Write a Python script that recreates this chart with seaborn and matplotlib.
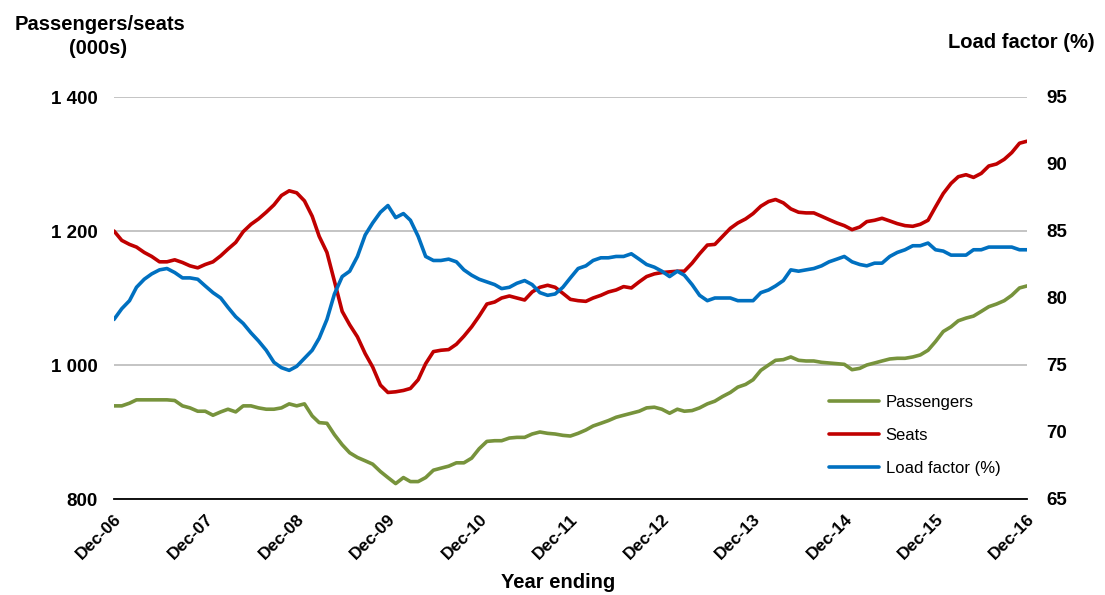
import numpy as np
import pandas as pd
import matplotlib
matplotlib.use('Agg')
import matplotlib.pyplot as plt
import seaborn as sns
from matplotlib.ticker import FuncFormatter

# Monthly data, year ending Dec-06 .. Dec-16
months = pd.date_range('2006-12-01', periods=121, freq='MS')

passengers = [939, 939, 943, 948, 948, 948, 948, 948, 947, 939,
              936, 931, 931, 925, 930, 934, 930, 939, 939, 936,
              934, 934, 936, 942, 939, 942, 924, 914, 913, 896,
              881, 869, 862, 857, 852, 841, 832, 823, 832, 826,
              826, 832, 843, 846, 849, 854, 854, 861, 875, 886,
              887, 887, 891, 892, 892, 897, 900, 898, 897, 895,
              894, 898, 903, 909, 913, 917, 922, 925, 928, 931,
              936, 937, 934, 928, 934, 931, 932, 936, 942, 946,
              953, 959, 967, 971, 978, 992, 1000, 1007, 1008, 1012,
              1007, 1006, 1006, 1004, 1003, 1002, 1001, 993, 995, 1000,
              1003, 1006, 1009, 1010, 1010, 1012, 1015, 1022, 1035, 1050,
              1057, 1066, 1070, 1073, 1080, 1087, 1091, 1096, 1104, 1115, 1118]

seats = [1200, 1186, 1180, 1176, 1168, 1162, 1154, 1154, 1157, 1153,
         1148, 1145, 1150, 1154, 1163, 1173, 1183, 1199, 1210, 1218,
         1228, 1239, 1253, 1260, 1257, 1245, 1222, 1192, 1168, 1125,
         1080, 1060, 1042, 1017, 997, 970, 959, 960, 962, 965,
         978, 1002, 1020, 1022, 1023, 1031, 1043, 1057, 1073, 1091,
         1094, 1100, 1103, 1100, 1097, 1109, 1116, 1119, 1116, 1107,
         1098, 1096, 1095, 1100, 1104, 1109, 1112, 1117, 1115, 1124,
         1132, 1136, 1138, 1139, 1140, 1140, 1152, 1166, 1179, 1180,
         1192, 1204, 1212, 1218, 1226, 1237, 1244, 1247, 1242, 1233,
         1228, 1227, 1227, 1222, 1217, 1212, 1208, 1202, 1206, 1214,
         1216, 1219, 1215, 1211, 1208, 1207, 1210, 1216, 1236, 1256,
         1271, 1281, 1284, 1280, 1286, 1297, 1300, 1307, 1317, 1331, 1334]

load_factor = [78.4, 79.2, 79.8, 80.8, 81.4, 81.8, 82.1, 82.2, 81.9, 81.5,
               81.5, 81.4, 80.9, 80.4, 80.0, 79.3, 78.6, 78.1, 77.4, 76.8,
               76.1, 75.2, 74.8, 74.6, 74.9, 75.5, 76.1, 77.0, 78.4, 80.3,
               81.6, 82.0, 83.1, 84.7, 85.6, 86.4, 86.9, 86.0, 86.3, 85.8,
               84.6, 83.1, 82.8, 82.8, 82.9, 82.7, 82.1, 81.7, 81.4, 81.2,
               81.0, 80.7, 80.8, 81.1, 81.3, 81.0, 80.4, 80.2, 80.3, 80.8,
               81.5, 82.2, 82.4, 82.8, 83.0, 83.0, 83.1, 83.1, 83.3, 82.9,
               82.5, 82.3, 82.0, 81.6, 82.0, 81.7, 81.0, 80.2, 79.8, 80.0,
               80.0, 80.0, 79.8, 79.8, 79.8, 80.4, 80.6, 80.9, 81.3, 82.1,
               82.0, 82.1, 82.2, 82.4, 82.7, 82.9, 83.1, 82.7, 82.5, 82.4,
               82.6, 82.6, 83.1, 83.4, 83.6, 83.9, 83.9, 84.1, 83.6, 83.5,
               83.2, 83.2, 83.2, 83.6, 83.6, 83.8, 83.8, 83.8, 83.8, 83.6, 83.6]

year_ticks = months[::12]
tick_labels = [d.strftime('Dec-%y') for d in year_ticks]
left_ticks = [800, 1000, 1200, 1400]
right_ticks = [65, 70, 75, 80, 85, 90, 95]

sns.set_style('white')
plt.rcParams['font.family'] = ['Liberation Sans', 'DejaVu Sans']
plt.rcParams['font.weight'] = 'bold'
plt.rcParams['text.color'] = 'black'
plt.rcParams['xtick.color'] = 'black'
plt.rcParams['ytick.color'] = 'black'
plt.rcParams['axes.labelcolor'] = 'black'

fig = plt.figure(figsize=(11.05, 5.95), dpi=100)
ax = fig.add_axes([114 / 1105, 96 / 595, 913 / 1105, 402 / 595])
ax2 = ax.twinx()

lw = 2.6
sns.lineplot(x=months, y=passengers, ax=ax, color='#77933C', linewidth=lw, label='Passengers')
sns.lineplot(x=months, y=seats, ax=ax, color='#C00000', linewidth=lw, label='Seats')
sns.lineplot(x=months, y=load_factor, ax=ax2, color='#0070C0', linewidth=lw, label='Load factor (%)')

if ax.get_legend() is not None:
    ax.get_legend().remove()

ax.set_xlim(months[0], months[-1])
ax.set_ylim(800, 1400)
ax.set_yticks(left_ticks)
ax.yaxis.set_major_formatter(FuncFormatter(lambda v, p: f'{int(v):,}'.replace(',', ' ')))
ax2.set_ylim(65, 95)
ax2.set_yticks(right_ticks)

ax.grid(axis='y', color='#BFBFBF', linewidth=1.3)
ax.grid(axis='x', visible=False)
ax2.grid(False)
ax.set_axisbelow(True)

for a in (ax, ax2):
    for s in ['top', 'left', 'right']:
        a.spines[s].set_visible(False)
ax2.spines['bottom'].set_visible(False)
ax.spines['bottom'].set_color('black')
ax.spines['bottom'].set_linewidth(1.3)

ax.set_xticks(year_ticks)
ax.set_xticklabels(tick_labels, rotation=45, ha='right', va='top',
                   rotation_mode='anchor', fontsize=12.5, fontweight='bold')
ax.tick_params(axis='x', length=5, width=1.2, color='black', direction='out', pad=4)
ax.tick_params(axis='y', length=0, pad=12, labelsize=13.5)
ax2.tick_params(axis='y', length=0, pad=14, labelsize=13.5)
ax.set_xlabel('')
ax.set_ylabel('')
ax2.set_ylabel('')

handles = ax.get_lines()[:2] + ax2.get_lines()[:1]
ax2.legend(handles=handles, labels=['Passengers', 'Seats', 'Load factor (%)'],
           loc='upper left', bbox_to_anchor=(829 / 1105, 1 - 395 / 595),
           bbox_transform=fig.transFigure, frameon=False, borderpad=0,
           borderaxespad=0, handlelength=3.0, handletextpad=0.4,
           labelspacing=1.08, prop={'weight': 'normal', 'size': 12})

fig.text(100 / 1105, 1 - 25 / 595, 'Passengers/seats', ha='center', va='center',
         fontsize=14.5, fontweight='bold')
fig.text(98 / 1105, 1 - 48 / 595, '(000s)', ha='center', va='center',
         fontsize=14.5, fontweight='bold')
fig.text(1095 / 1105, 1 - 43 / 595, 'Load factor (%)', ha='right', va='center',
         fontsize=14.5, fontweight='bold')
fig.text(558 / 1105, 1 - 582 / 595, 'Year ending', ha='center', va='center',
         fontsize=14.5, fontweight='bold')

fig.savefig('out.png', dpi=100)
